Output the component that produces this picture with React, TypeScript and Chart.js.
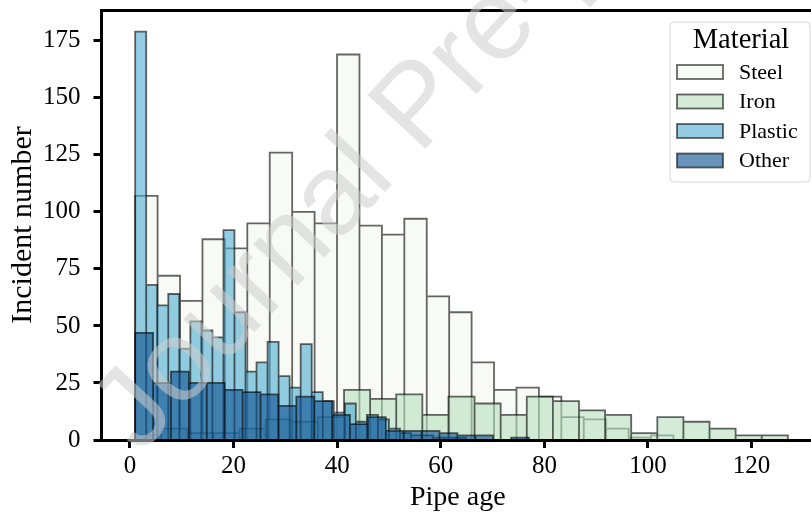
import React, { useEffect, useRef } from "react";
import { Chart, registerables } from "chart.js";

Chart.register(...registerables);

// ---- data ----
const materials = ["Steel", "Iron", "Plastic", "Other"];
const binStart = [1, 1, 1, 1];
const binWidth = [4.33, 5.04, 2.13, 3.456];
const steelCounts = [107, 72, 61, 88, 84, 95, 126, 100, 95, 169, 94, 90, 97, 63, 56, 34, 22, 23, 19, 10, 9, 5, 1, 2, 0, 0, 0, 0, 0];
const ironCounts = [2, 5, 3, 3, 5, 9, 8, 10, 22, 18, 20, 11, 19, 16, 11, 19, 17, 13, 11, 3, 10, 8, 5, 2, 2];
const plasticCounts = [179, 68, 59, 64, 40, 52, 48, 45, 92, 56, 30, 34, 43, 28, 23, 42, 21, 17, 12, 16, 8, 11, 9, 5, 3, 2, 2, 1, 1, 1];
const otherCounts = [47, 25, 30, 25, 25, 22, 21, 20, 15, 19, 17, 11, 7, 10, 4, 4, 4, 3, 2, 2, 0, 1];
const xTicks = [0, 20, 40, 60, 80, 100, 120];
const yTicks = [0, 25, 50, 75, 100, 125, 150, 175];

// ---- styles ----
const fills = [
  "rgba(242,247,238,0.6)",
  "rgba(183,223,188,0.6)",
  "rgba(77,172,208,0.6)",
  "rgba(15,80,145,0.62)",
];
const edge = "rgba(0,0,0,0.6)";
const SERIF = '"Liberation Serif", "DejaVu Serif", serif';

function outline(start: number, width: number, counts: number[]) {
  const pts: { x: number; y: number }[] = [];
  counts.forEach((c, i) => {
    const x0 = start + i * width;
    const x1 = x0 + width;
    pts.push({ x: x0, y: 0 }, { x: x0, y: c }, { x: x1, y: c }, { x: x1, y: 0 });
  });
  return pts;
}

const spinesPlugin = {
  id: "spines",
  afterDatasetsDraw(chart: any) {
    const { ctx, chartArea: a } = chart;
    ctx.save();
    ctx.strokeStyle = "#000";
    ctx.lineWidth = 3;
    ctx.beginPath();
    ctx.moveTo(a.left - 1.5, a.top + 0.5);
    ctx.lineTo(a.right + 5, a.top + 0.5);
    ctx.moveTo(a.left, a.top - 1);
    ctx.lineTo(a.left, a.bottom + 2);
    ctx.moveTo(a.left - 1.5, a.bottom + 0.5);
    ctx.lineTo(a.right + 5, a.bottom + 0.5);
    ctx.stroke();
    ctx.restore();
  },
};

const watermarkPlugin = {
  id: "watermark",
  afterDraw(chart: any) {
    const { ctx } = chart;
    ctx.save();
    ctx.translate(140, 455);
    ctx.rotate((-47 * Math.PI) / 180);
    ctx.font = '115px "Liberation Sans", Arial, sans-serif';
    ctx.fillStyle = "rgba(205,205,205,0.55)";
    ctx.textBaseline = "alphabetic";
    ctx.fillText("Journal Pre-proof", 0, 0);
    ctx.restore();
  },
};

const legendPlugin = {
  id: "boxLegend",
  afterDraw(chart: any) {
    const { ctx, chartArea: a } = chart;
    const right = a.right - 4;
    const left = right - 140;
    const top = a.top + 12;
    const bottom = top + 160;
    ctx.save();
    ctx.beginPath();
    const r = 4;
    ctx.moveTo(left + r, top);
    ctx.lineTo(right - r, top);
    ctx.quadraticCurveTo(right, top, right, top + r);
    ctx.lineTo(right, bottom - r);
    ctx.quadraticCurveTo(right, bottom, right - r, bottom);
    ctx.lineTo(left + r, bottom);
    ctx.quadraticCurveTo(left, bottom, left, bottom - r);
    ctx.lineTo(left, top + r);
    ctx.quadraticCurveTo(left, top, left + r, top);
    ctx.closePath();
    ctx.fillStyle = "rgba(255,255,255,0.85)";
    ctx.fill();
    ctx.strokeStyle = "#d6d6d6";
    ctx.lineWidth = 1;
    ctx.stroke();

    ctx.fillStyle = "#000";
    ctx.font = `28.5px ${SERIF}`;
    ctx.textAlign = "center";
    ctx.textBaseline = "alphabetic";
    ctx.fillText("Material", left + 71, top + 26);

    ctx.font = `22px ${SERIF}`;
    ctx.textAlign = "left";
    materials.forEach((m, i) => {
      const cy = top + 50 + i * 29.5;
      ctx.fillStyle = "#fff";
      ctx.fillRect(left + 7, cy - 7, 46, 14);
      ctx.fillStyle = fills[i];
      ctx.fillRect(left + 7, cy - 7, 46, 14);
      ctx.strokeStyle = edge;
      ctx.lineWidth = 1.8;
      ctx.strokeRect(left + 7, cy - 7, 46, 14);
      ctx.fillStyle = "#000";
      ctx.fillText(m, left + 69, cy + 6.5);
    });
    ctx.restore();
  },
};

export default function App() {
  const ref = useRef<HTMLCanvasElement | null>(null);
  useEffect(() => {
    if (!ref.current) return;
    const series = [steelCounts, ironCounts, plasticCounts, otherCounts];
    const datasets = series.map((counts, i) => ({
      label: materials[i],
      data: outline(binStart[i], binWidth[i], counts),
      backgroundColor: fills[i],
      borderColor: edge,
      borderWidth: 1.8,
      pointRadius: 0,
      tension: 0,
      fill: "origin",
      borderJoinStyle: "miter" as const,
      order: 4 - i,
    }));
    const tickFont = { family: SERIF, size: 25 };
    const chart = new Chart(ref.current, {
      type: "line",
      data: { datasets },
      options: {
        animation: false,
        responsive: false,
        devicePixelRatio: 1,
        layout: { padding: { top: 10, left: 0, right: 0, bottom: 0 } },
        plugins: { legend: { display: false }, tooltip: { enabled: false } },
        scales: {
          x: {
            type: "linear",
            min: -5.5,
            max: 132.05,
            afterBuildTicks: (s: any) => {
              s.ticks = xTicks.map((v) => ({ value: v }));
            },
            afterFit: (s: any) => {
              s.height = 75;
              s.paddingLeft = 0;
              s.paddingRight = 0;
            },
            grid: { drawOnChartArea: false, drawTicks: true, tickLength: 8, tickWidth: 3, tickColor: "#000" },
            border: { display: false },
            ticks: { font: tickFont, color: "#000", padding: 3, maxRotation: 0 },
            title: { display: true, text: "Pipe age", font: { family: SERIF, size: 28 }, color: "#000", padding: { top: 0, bottom: 1 } },
          },
          y: {
            type: "linear",
            min: 0,
            max: 188.5,
            afterBuildTicks: (s: any) => {
              s.ticks = yTicks.map((v) => ({ value: v }));
            },
            afterFit: (s: any) => {
              s.width = 101.5;
              s.paddingTop = 0;
              s.paddingBottom = 0;
            },
            grid: { drawOnChartArea: false, drawTicks: true, tickLength: 8, tickWidth: 3, tickColor: "#000" },
            border: { display: false },
            ticks: { font: tickFont, color: "#000", padding: 13 },
            title: { display: true, text: "Incident number", font: { family: SERIF, size: 30 }, color: "#000", padding: { top: 5, bottom: 0 } },
          },
        },
      },
      plugins: [spinesPlugin, watermarkPlugin, legendPlugin],
    });
    return () => chart.destroy();
  }, []);
  return (
    <div style={{ position: "fixed", left: 0, top: 0, width: 811, height: 515, overflow: "hidden", background: "#fff" }}>
      <canvas ref={ref} width={814} height={515} style={{ display: "block" }} />
    </div>
  );
}
